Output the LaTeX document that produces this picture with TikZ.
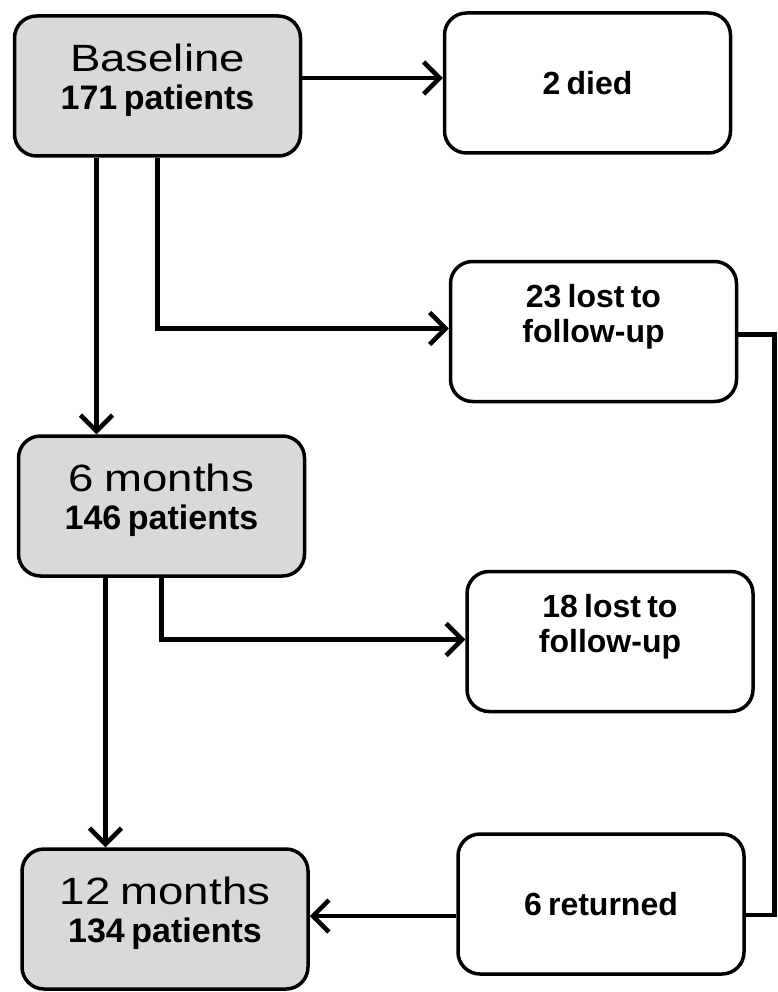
\documentclass[tikz,border=0pt]{standalone}
\usepackage{fontspec}
\setmainfont[WordSpace=0.7]{Liberation Sans}
\newfontfamily\widesans[FakeStretch=1.2,WordSpace=0.8]{Liberation Sans}
\usetikzlibrary{arrows.meta}

\tikzset{
  stage/.style={draw, line width=3.5pt, rounded corners=22pt, fill=gray!30,
    minimum width=286pt, minimum height=140pt},
  outcome/.style={stage, fill=white},
  stagetxt/.style={align=center, font=\bfseries\fontsize{34}{38}\selectfont},
  outtxt/.style={align=center, font=\bfseries\fontsize{32}{35}\selectfont},
  flow/.style={line width=4.5pt, -{Straight Barb[length=16pt,width=32pt]}},
  link/.style={line width=4.5pt}
}
\newcommand{\stagename}[1]{{\widesans\mdseries\fontsize{38}{38}\selectfont #1}}

\begin{document}
\begin{tikzpicture}[x=1pt,y=-1pt]
    \useasboundingbox (0,0) rectangle (777,992);
    \node[stage] (base) at (157.5,86) {};
    \node[stage] (six) at (161.5,506) {};
    \node[stage] (twelve) at (165,919) {};
    \node[outcome] (died) at (587.5,83) {};
    \node[outcome] (lost1) at (593.5,331.5) {};
    \node[outcome] (lost2) at (610,641.5) {};
    \node[outcome] (ret) at (601,904) {};
    \node[stagetxt] (base-txt) at ([yshift=6pt]base.center) {\stagename{Baseline}\\171 patients};
    \node[stagetxt] (six-txt) at ([yshift=6pt]six.center) {\stagename{6 months}\\146 patients};
    \node[stagetxt] (twelve-txt) at ([yshift=6pt]twelve.center) {\stagename{12 months}\\134 patients};
    \node[outtxt] (died-txt) at (died.center) {2 died};
    \node[outtxt] (lost1-txt) at ([yshift=15pt]lost1.center) {23 lost to\\follow-up};
    \node[outtxt] (lost2-txt) at ([yshift=15pt]lost2.center) {18 lost to\\follow-up};
    \node[outtxt] (ret-txt) at (ret.center) {6 returned};
    \draw[flow] ([yshift=8pt]base.east) -- ([yshift=8pt]base.east -| died.west);
    \draw[flow] ([xshift=-61pt]base.south) -- ([xshift=-61pt]base.south |- six.north);
    \draw[flow] (base.south) |- ([yshift=3pt]lost1.west);
    \draw[link] ([yshift=-3pt]lost1.east) -- ++(36,0) |- ([yshift=-11pt]ret.east);
    \draw[flow] ([xshift=-56pt]six.south) -- ([xshift=-56pt]six.south |- twelve.north);
    \draw[flow] (six.south) |- ([yshift=2pt]lost2.west);
    \draw[flow] ([yshift=-12pt]ret.west) -- ([yshift=-12pt]ret.west -| twelve.east);
\end{tikzpicture}
\end{document}
